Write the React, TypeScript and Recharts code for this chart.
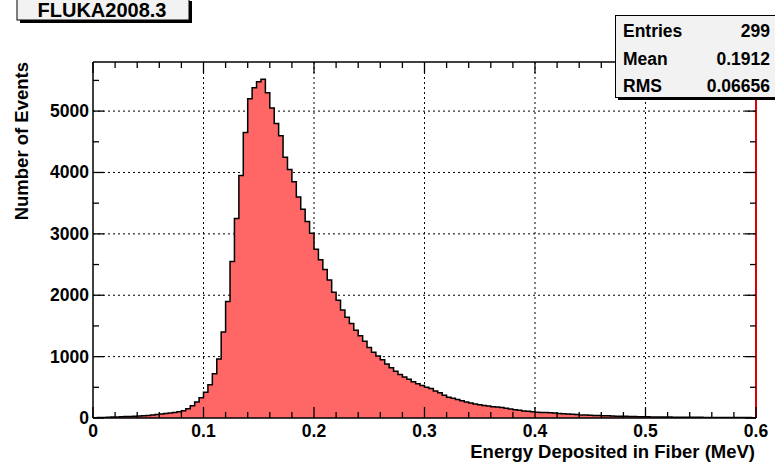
import { ComposedChart, Area, XAxis, YAxis, CartesianGrid } from 'recharts'

// histogram of deposited energy, 150 bins of 0.004 MeV from 0 to 0.6
const binWidth = 0.004
const binCounts = [
  5, 8, 10, 12, 15, 18, 20, 24, 26, 30,
  34, 38, 42, 50, 58, 66, 74, 80, 90, 100,
  120, 150, 200, 260, 330, 420, 540, 720, 960, 1400,
  1900, 2550, 3250, 3950, 4650, 5200, 5380, 5480, 5520, 5300,
  5050, 4800, 4600, 4250, 4050, 3850, 3600, 3400, 3200, 3010,
  2750, 2580, 2420, 2250, 2050, 1920, 1760, 1640, 1540, 1430,
  1340, 1250, 1150, 1070, 1010, 950, 880, 820, 760, 710,
  670, 630, 590, 560, 530, 500, 480, 440, 410, 370,
  340, 320, 300, 280, 260, 245, 230, 215, 205, 195,
  185, 180, 170, 160, 145, 135, 125, 115, 108, 100,
  95, 90, 88, 85, 80, 75, 70, 64, 60, 55,
  50, 48, 45, 42, 40, 37, 35, 32, 30, 28,
  27, 25, 24, 22, 21, 20, 18, 17, 16, 15,
  15, 14, 13, 13, 12, 12, 11, 11, 10, 10,
  9, 9, 9, 8, 8, 8, 7, 7, 7, 6,
]

const xTicks = [
  0, 0.02, 0.04, 0.06, 0.08, 0.1, 0.12, 0.14, 0.16, 0.18, 0.2,
  0.22, 0.24, 0.26, 0.28, 0.3, 0.32, 0.34, 0.36, 0.38, 0.4,
  0.42, 0.44, 0.46, 0.48, 0.5, 0.52, 0.54, 0.56, 0.58, 0.6,
]
const xGrid = [0.1, 0.2, 0.3, 0.4, 0.5]
const yTicks = [0, 500, 1000, 1500, 2000, 2500, 3000, 3500, 4000, 4500, 5000, 5500]
const yGrid = [1000, 2000, 3000, 4000, 5000]

const stats = [
  { name: 'Entries', value: '299' },
  { name: 'Mean', value: '0.1912' },
  { name: 'RMS', value: '0.06656' },
]

const FONT = '"Liberation Sans", Arial, Helvetica, sans-serif'

const data = [
  ...binCounts.map((n, i) => ({ e: i * binWidth, n })),
  { e: binCounts.length * binWidth, n: binCounts[binCounts.length - 1] },
]

const isMajorX = (v: number) => Math.abs(v * 10 - Math.round(v * 10)) < 1e-6
const isMajorY = (v: number) => v % 1000 === 0

const BottomTick = ({ x, y, payload }: any) => {
  const major = isMajorX(payload.value)
  return (
    <g>
      <line x1={x} y1={y} x2={x} y2={y - (major ? 11 : 6)} stroke="#000" strokeWidth={1.3} />
      {major && (
        <text x={x} y={y + 19} textAnchor="middle" fontFamily={FONT} fontWeight="bold" fontSize={17.5} fill="#000">
          {payload.value === 0 ? '0' : payload.value.toFixed(1)}
        </text>
      )}
    </g>
  )
}

const TopTick = ({ x, y, payload }: any) => {
  const major = isMajorX(payload.value)
  return <line x1={x} y1={y} x2={x} y2={y + (major ? 11 : 6)} stroke="#000" strokeWidth={1.3} />
}

const LeftTick = ({ x, y, payload }: any) => {
  const major = isMajorY(payload.value)
  return (
    <g>
      <line x1={x} y1={y} x2={x + (major ? 11 : 6)} y2={y} stroke="#000" strokeWidth={1.3} />
      {major && (
        <text x={x - 4} y={y + 6} textAnchor="end" fontFamily={FONT} fontWeight="bold" fontSize={17.5} fill="#000">
          {payload.value}
        </text>
      )}
    </g>
  )
}

const RightTick = ({ x, y, payload }: any) => {
  const major = isMajorY(payload.value)
  return <line x1={x} y1={y} x2={x - (major ? 11 : 6)} y2={y} stroke="#000" strokeWidth={1.3} />
}

export default function App() {
  return (
    <div style={{ position: 'absolute', left: 0, top: 0, width: 775, height: 467, background: '#fff' }}>
      <ComposedChart width={775} height={467} data={data} margin={{ top: 0, right: 0, bottom: 0, left: 0 }}>
        <CartesianGrid
          stroke="#000"
          strokeDasharray="2 3"
          verticalValues={xGrid}
          horizontalValues={yGrid}
        />
        <XAxis
          dataKey="e"
          type="number"
          domain={[0, 0.6]}
          ticks={xTicks}
          interval={0}
          height={49}
          tickSize={0}
          tickMargin={0}
          tick={<BottomTick />}
          axisLine={{ stroke: '#000', strokeWidth: 1.5 }}
          allowDataOverflow
        />
        <XAxis
          xAxisId="top"
          orientation="top"
          dataKey="e"
          type="number"
          domain={[0, 0.6]}
          ticks={xTicks}
          interval={0}
          height={62}
          tickSize={0}
          tickMargin={0}
          tick={<TopTick />}
          axisLine={{ stroke: '#000', strokeWidth: 1.5 }}
          allowDataOverflow
        />
        <YAxis
          type="number"
          domain={[0, 5800]}
          ticks={yTicks}
          interval={0}
          width={93}
          tickSize={0}
          tickMargin={0}
          tick={<LeftTick />}
          axisLine={{ stroke: '#000', strokeWidth: 1.5 }}
          allowDataOverflow
        />
        <YAxis
          yAxisId="right"
          orientation="right"
          type="number"
          domain={[0, 5800]}
          ticks={yTicks}
          interval={0}
          width={19}
          tickSize={0}
          tickMargin={0}
          tick={<RightTick />}
          axisLine={{ stroke: '#e00000', strokeWidth: 2 }}
          allowDataOverflow
        />
        <Area
          dataKey="n"
          type="stepAfter"
          fill="#ff6666"
          fillOpacity={1}
          stroke="#000"
          strokeWidth={1.5}
          dot={false}
          activeDot={false}
          isAnimationActive={false}
        />
      </ComposedChart>

      <svg width={775} height={467} style={{ position: 'absolute', left: 0, top: 0, pointerEvents: 'none' }}>
        <text
          transform="translate(28,62) rotate(-90)"
          textAnchor="end"
          fontFamily={FONT}
          fontWeight="bold"
          fontSize={18.5}
          fill="#000"
        >
          Number of Events
        </text>
        <text x={755} y={458} textAnchor="end" fontFamily={FONT} fontWeight="bold" fontSize={18.5} fill="#000">
          Energy Deposited in Fiber (MeV)
        </text>

        {/* title box */}
        <rect x={20} y={1} width={172} height={22} fill="#000" />
        <rect x={17} y={-2} width={172} height={22} fill="#f2f2f2" stroke="#000" strokeWidth={1} />
        <text x={102} y={17} textAnchor="middle" fontFamily={FONT} fontWeight="bold" fontSize={20} fill="#000">
          FLUKA2008.3
        </text>

        {/* stats box */}
        <rect x={618} y={18} width={160} height={82} fill="#000" />
        <rect x={615.5} y={15.5} width={162} height={82} fill="#f2f2f2" stroke="#000" strokeWidth={1} />
        {stats.map((s, i) => (
          <g key={s.name}>
            <text x={623} y={37 + i * 27.5} fontFamily={FONT} fontWeight="bold" fontSize={17.5} fill="#000">
              {s.name}
            </text>
            <text x={770} y={37 + i * 27.5} textAnchor="end" fontFamily={FONT} fontWeight="bold" fontSize={17.5} fill="#000">
              {s.value}
            </text>
          </g>
        ))}
      </svg>
    </div>
  )
}
